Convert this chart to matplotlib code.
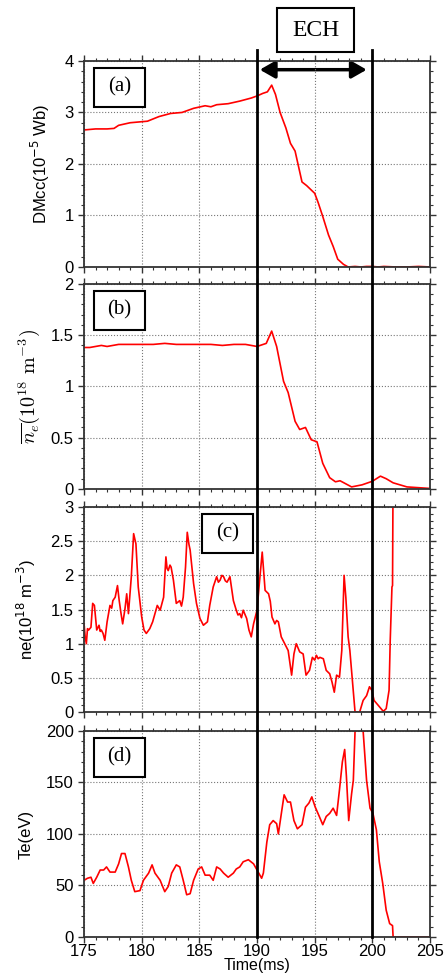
import numpy as np
import matplotlib
matplotlib.use("Agg")
import matplotlib.pyplot as plt
from matplotlib import transforms
from matplotlib.patches import Rectangle, FancyArrowPatch
from matplotlib.ticker import MultipleLocator

# panel (a) DMcc
t_a = [175.0, 176.0, 177.0, 177.6, 178.0, 179.0, 180.0, 180.5, 181.5, 182.5, 183.5, 184.5,
       185.5, 186.0, 186.5, 187.5, 188.5, 189.5, 190.0, 190.5, 190.9, 191.27, 191.6, 192.0,
       192.5, 192.9, 193.3, 193.6, 193.9, 194.3, 195.0, 195.3, 195.7, 196.2, 196.6, 197.0,
       197.5, 197.9, 198.5, 199.0, 199.5, 200.0, 200.5, 201.0, 202.0, 203.0, 204.0, 205.0]
dmcc = [2.66, 2.68, 2.68, 2.69, 2.75, 2.80, 2.82, 2.83, 2.92, 2.98, 3.00, 3.08,
        3.13, 3.11, 3.15, 3.17, 3.22, 3.28, 3.32, 3.37, 3.40, 3.53, 3.35, 3.00,
        2.70, 2.40, 2.25, 1.95, 1.65, 1.58, 1.43, 1.25, 0.98, 0.62, 0.40, 0.15,
        0.05, 0.00, 0.01, 0.00, 0.01, 0.01, 0.00, 0.01, 0.00, 0.00, 0.01, 0.00]

# panel (b) line averaged density
t_b = [175.0, 175.5, 176.0, 176.5, 177.0, 178.0, 179.0, 180.0, 181.0, 182.0, 183.0, 184.0,
       185.0, 186.0, 187.0, 188.0, 189.0, 190.0, 190.8, 191.27, 191.7, 192.3, 192.7, 193.3,
       193.7, 194.2, 194.7, 195.2, 195.7, 196.3, 196.8, 197.2, 198.2, 199.1, 200.0, 200.7,
       201.2, 201.8, 203.0, 205.0]
ne_bar = [1.38, 1.38, 1.39, 1.40, 1.39, 1.41, 1.41, 1.41, 1.41, 1.42, 1.41, 1.41,
          1.41, 1.41, 1.40, 1.41, 1.41, 1.39, 1.42, 1.54, 1.39, 1.05, 0.94, 0.66,
          0.58, 0.60, 0.48, 0.46, 0.25, 0.11, 0.07, 0.08, 0.02, 0.04, 0.075, 0.125,
          0.10, 0.06, 0.02, 0.005]

# panel (c) local density
t_c = [175.0, 175.1, 175.2, 175.3, 175.4, 175.6, 175.75, 175.9, 176.0, 176.1, 176.3, 176.4,
       176.5, 176.65, 176.8, 177.0, 177.25, 177.4, 177.5, 177.7, 177.9, 178.05, 178.2, 178.35,
       178.55, 178.7, 178.85, 179.1, 179.3, 179.5, 179.7, 180.0, 180.2, 180.4, 180.7, 180.95,
       181.15, 181.35, 181.6, 181.9, 182.1, 182.2, 182.3, 182.45, 182.55, 182.75, 183.0, 183.3,
       183.45, 183.6, 183.8, 183.95, 184.1, 184.2, 184.5, 184.75, 185.05, 185.2, 185.35, 185.7,
       185.9, 186.2, 186.5, 186.65, 186.8, 186.95, 187.1, 187.25, 187.4, 187.65, 187.95, 188.2,
       188.35, 188.5, 188.65, 188.8, 189.1, 189.3, 189.5, 189.7, 190.0, 190.2, 190.45, 190.7,
       191.0, 191.15, 191.3, 191.55, 191.7, 191.85, 192.1, 192.4, 192.7, 193.0, 193.2, 193.4,
       193.7, 194.0, 194.25, 194.55, 194.8, 195.0, 195.15, 195.3, 195.45, 195.75, 196.0, 196.3,
       196.5, 196.7, 196.9, 197.15, 197.35, 197.55, 197.7, 197.9, 198.05, 198.3, 198.5, 198.9,
       199.2, 199.5, 199.75, 199.95, 200.15, 200.5, 200.95, 201.2, 201.45, 201.55, 201.7, 201.75,
       201.8]
ne_c = [1.29, 1.10, 1.00, 1.22, 1.20, 1.24, 1.59, 1.56, 1.38, 1.20, 1.27, 1.18,
        1.20, 1.15, 1.05, 1.32, 1.56, 1.52, 1.63, 1.68, 1.85, 1.63, 1.45, 1.29,
        1.51, 1.73, 1.44, 1.98, 2.61, 2.46, 1.83, 1.39, 1.20, 1.15, 1.22, 1.32,
        1.44, 1.56, 1.49, 1.68, 2.27, 2.10, 2.07, 2.15, 2.12, 1.93, 1.59, 1.63,
        1.55, 1.68, 2.12, 2.63, 2.45, 2.37, 1.88, 1.59, 1.37, 1.32, 1.27, 1.32,
        1.56, 1.83, 1.98, 1.90, 1.93, 2.00, 1.98, 1.92, 1.90, 1.98, 1.63, 1.49,
        1.42, 1.44, 1.38, 1.49, 1.37, 1.20, 1.10, 1.29, 1.49, 1.88, 2.34, 1.78,
        1.73, 1.62, 1.39, 1.29, 1.34, 1.32, 1.10, 1.00, 0.90, 0.54, 0.85, 1.00,
        0.88, 0.85, 0.54, 0.61, 0.80, 0.76, 0.83, 0.78, 0.80, 0.78, 0.61, 0.56,
        0.44, 0.29, 0.54, 0.51, 0.90, 2.00, 1.68, 1.10, 0.90, 0.41, 0.00, 0.00,
        0.17, 0.24, 0.37, 0.32, 0.17, 0.10, 0.01, 0.05, 0.32, 1.05, 1.83, 1.85,
        3.60]

# panel (d) electron temperature
t_d = [175.0, 175.3, 175.6, 175.8, 176.1, 176.4, 176.7, 176.95, 177.25, 177.7, 178.0, 178.25,
       178.55, 178.85, 179.1, 179.4, 179.85, 180.15, 180.6, 180.9, 181.15, 181.6, 182.0, 182.3,
       182.6, 183.0, 183.3, 183.6, 183.9, 184.2, 184.5, 184.9, 185.2, 185.5, 185.9, 186.2,
       186.5, 186.8, 187.1, 187.5, 187.95, 188.2, 188.5, 188.8, 189.25, 189.7, 190.0, 190.4,
       190.55, 190.85, 191.1, 191.4, 191.7, 191.85, 192.15, 192.35, 192.65, 192.9, 193.2, 193.5,
       193.9, 194.2, 194.5, 194.75, 195.05, 195.4, 195.7, 196.0, 196.3, 196.6, 196.9, 197.15,
       197.4, 197.6, 197.75, 197.95, 198.2, 198.35, 198.5, 198.9, 199.2, 199.5, 199.8, 200.05,
       200.35, 200.6, 200.9, 201.2, 201.5, 201.75, 201.8, 203.0, 205.0]
te = [55, 57, 58, 52, 58, 65, 65, 68, 63, 63, 71, 81,
      81, 68, 55, 44, 45, 55, 62, 70, 62, 55, 44, 49,
      62, 70, 68, 55, 41, 42, 55, 66, 68, 60, 60, 55,
      68, 66, 62, 58, 62, 66, 68, 73, 75, 71, 65, 57,
      62, 92, 109, 113, 110, 100, 123, 138, 131, 131, 113, 105,
      109, 126, 130, 136, 126, 117, 109, 117, 120, 125, 118, 143,
      170, 182, 156, 113, 139, 152, 200, 215, 200, 152, 125, 120,
      104, 73, 52, 26, 13, 11, 0, 0, 0]

panels = [
    (t_a, dmcc, (0, 4), 1, 0.2, "DMcc(10$^{-5}$ Wb)", "(a)", 0.029),
    (t_b, ne_bar, (0, 2), 0.5, 0.1, r"$\overline{n_e}(10^{18}\ \mathrm{m}^{-3})$", "(b)", 0.029),
    (t_c, ne_c, (0, 3), 0.5, 0.1, "ne(10$^{18}$ m$^{-3}$)", "(c)", 0.341),
    (t_d, te, (0, 200), 50, 10, "Te(eV)", "(d)", 0.029),
]
# axes rectangles [left, bottom, width, height] in figure fraction
boxes = [[0.188, 0.7262, 0.774, 0.2113],
         [0.188, 0.4985, 0.774, 0.2103],
         [0.188, 0.2697, 0.774, 0.2103],
         [0.188, 0.0390, 0.774, 0.2113]]

fig = plt.figure(figsize=(4.47, 9.75), dpi=100)
sans = "Liberation Sans"
serif = "Liberation Serif"

axes = []
for (t, y, ylim, major, minor, ylab, tag, tagx), rect in zip(panels, boxes):
    ax = fig.add_axes(rect)
    ax.plot(t, y, color="red", lw=1.2)
    ax.set_xlim(175, 205)
    ax.set_ylim(*ylim)
    ax.xaxis.set_major_locator(MultipleLocator(5))
    ax.xaxis.set_minor_locator(MultipleLocator(1))
    ax.yaxis.set_major_locator(MultipleLocator(major))
    ax.yaxis.set_minor_locator(MultipleLocator(minor))
    ax.tick_params(which="both", direction="out", top=True, right=True, color="#333333")
    ax.tick_params(which="major", length=4, width=1)
    ax.tick_params(which="minor", length=2.5, width=0.8)
    ax.tick_params(labelsize=12)
    ax.tick_params(axis="x", pad=1)
    ax.yaxis.set_major_formatter(plt.FuncFormatter(lambda v, p: f"{v:g}"))
    for lab in ax.get_xticklabels() + ax.get_yticklabels():
        lab.set_fontfamily(sans)
    ax.grid(True, which="major", color="#777777", ls=":", lw=0.8)
    for s in ax.spines.values():
        s.set_linewidth(1.3)
        s.set_color("#333333")
    if tag == "(b)":
        ax.set_ylabel(ylab, fontsize=14.5, math_fontfamily="cm", labelpad=6)
    else:
        ax.set_ylabel(ylab, fontsize=12, fontfamily=sans, labelpad=9)
    ax.add_patch(Rectangle((tagx, 0.777), 0.147, 0.19, transform=ax.transAxes,
                           fill=True, facecolor="white", edgecolor="black", lw=1.5, zorder=5))
    ax.text(tagx + 0.0735, 0.872, tag, transform=ax.transAxes, ha="center", va="center",
            fontsize=15, fontfamily=serif, zorder=6)
    axes.append(ax)

for ax in axes[:3]:
    ax.tick_params(labelbottom=False)
axes[3].set_xlabel("Time(ms)", fontsize=11.5, fontfamily=sans, labelpad=-0.5)
for lab in axes[3].get_xticklabels():
    lab.set_fontfamily(sans)

# ECH period lines through all panels
ech_start, ech_end = 190, 200
for xv in (ech_start, ech_end):
    tr = transforms.blended_transform_factory(axes[0].transData, fig.transFigure)
    fig.add_artist(plt.Line2D([xv, xv], [0.039, 0.9487], transform=tr, color="black", lw=2))

arrow = FancyArrowPatch((ech_start, 3.83), (ech_end - 0.25, 3.83), transform=axes[0].transData,
                        arrowstyle="<|-|>,head_length=0.7,head_width=0.4", mutation_scale=13,
                        color="black", lw=2.5)
axes[0].add_patch(arrow)

fig.add_artist(Rectangle((277 / 447, 1 - 52 / 975), 77 / 447, 44 / 975, transform=fig.transFigure,
                         fill=True, facecolor="white", edgecolor="black", lw=1.5))
fig.text(315.5 / 447, 1 - 30 / 975, "ECH", ha="center", va="center", fontsize=17, fontfamily=serif)

fig.savefig("out.png", dpi=100)
